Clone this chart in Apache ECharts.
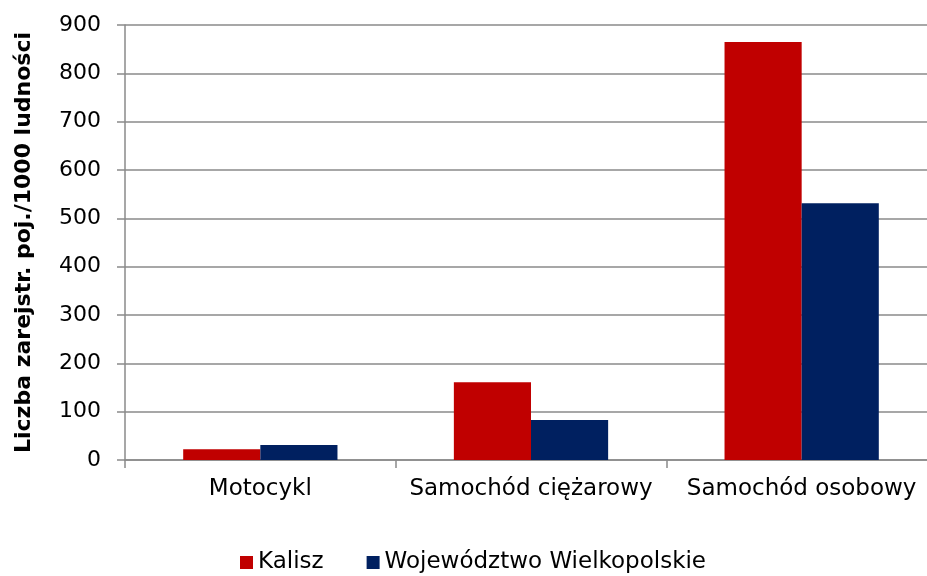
<!DOCTYPE html>
<html>
<head>
<meta charset="utf-8">
<script src="https://cdn.jsdelivr.net/npm/echarts@6/dist/echarts.min.js"></script>
<style>
  html, body { margin: 0; padding: 0; background: #fff; }
  #chart { width: 927px; height: 576px; }
</style>
</head>
<body>
<div id="chart"></div>
<script>
// Vehicle categories on the x axis
const categories = ['Motocykl', 'Samochód ciężarowy', 'Samochód osobowy'];
// Registered vehicles per 1000 inhabitants
const kalisz = [22, 161, 865];
const wielkopolskie = [31, 83, 531];
const seriesNames = ['Kalisz', 'Województwo Wielkopolskie'];
const yTicks = [0, 100, 200, 300, 400, 500, 600, 700, 800, 900];

const FONT = 'DejaVu Sans';
const GRID_COLOR = '#8a8a8a';

const chart = echarts.init(document.getElementById('chart'), null, { renderer: 'canvas' });

chart.setOption({
  animation: false,
  backgroundColor: '#ffffff',
  textStyle: { fontFamily: FONT },
  // plot area runs slightly past the right edge of the canvas
  grid: {
    left: 125, width: 812, top: 25, height: 435,
    containLabel: false,
    outerBoundsMode: 'none'
  },
  legend: {
    data: seriesNames,
    top: 546,
    left: 235,
    itemWidth: 13,
    itemHeight: 13,
    itemGap: 43,
    icon: 'rect',
    textStyle: { fontFamily: FONT, fontSize: 23, color: '#000' }
  },
  xAxis: {
    type: 'category',
    data: categories,
    axisLine: { lineStyle: { color: GRID_COLOR, width: 1.5 } },
    axisTick: { show: true, length: 8, interval: 0, lineStyle: { color: GRID_COLOR, width: 1.5 } },
    axisLabel: { fontFamily: FONT, fontSize: 23, color: '#000', margin: 18, interval: 0 }
  },
  yAxis: {
    type: 'value',
    min: yTicks[0],
    max: yTicks[yTicks.length - 1],
    interval: 100,
    name: 'Liczba zarejstr. poj./1000 ludności',
    nameLocation: 'middle',
    nameGap: 90,
    nameRotate: 90,
    nameTextStyle: { fontFamily: FONT, fontSize: 22, fontWeight: 'bold', color: '#000' },
    axisLine: { show: true, lineStyle: { color: GRID_COLOR, width: 1.5 } },
    axisTick: { show: true, length: 8, lineStyle: { color: GRID_COLOR, width: 1.5 } },
    axisLabel: { fontFamily: FONT, fontSize: 22, color: '#000', margin: 24 },
    splitLine: { show: true, lineStyle: { color: GRID_COLOR, width: 1.5 } }
  },
  series: [
    {
      name: seriesNames[0],
      type: 'bar',
      data: kalisz,
      barGap: '0%',
      barCategoryGap: '43%',
      itemStyle: { color: '#C00000' }
    },
    {
      name: seriesNames[1],
      type: 'bar',
      data: wielkopolskie,
      barGap: '0%',
      barCategoryGap: '43%',
      itemStyle: { color: '#002060' }
    }
  ]
});
</script>
</body>
</html>
